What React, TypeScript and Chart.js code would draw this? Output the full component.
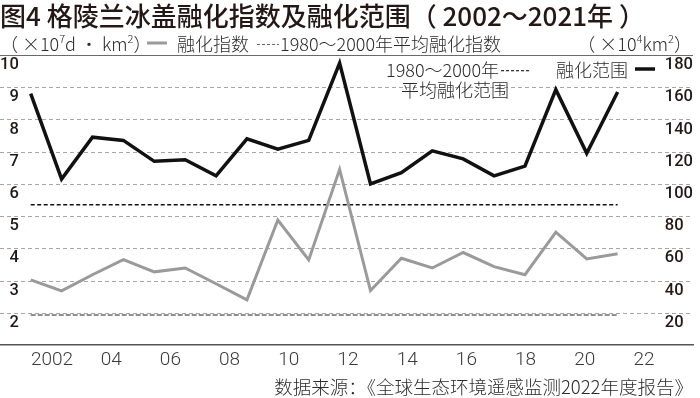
import React, { useEffect, useRef } from 'react';
import { Chart, registerables } from 'chart.js';

Chart.register(...registerables);

const years = [2002, 2003, 2004, 2005, 2006, 2007, 2008, 2009, 2010, 2011, 2012, 2013, 2014, 2015, 2016, 2017, 2018, 2019, 2020, 2021];
// 融化指数 (×10^7 d·km²), left axis
const meltIndex = [3.02, 2.68, 3.18, 3.65, 3.27, 3.39, 2.9, 2.4, 4.88, 3.64, 6.45, 2.69, 3.69, 3.39, 3.87, 3.43, 3.18, 4.5, 3.67, 3.83];
// 融化范围 (×10^4 km²), right axis
const meltExtent = [156, 103, 129, 127, 114, 115, 105, 128, 121.5, 127, 175, 100, 107, 120.5, 115.5, 105, 111, 158.5, 119, 157];
// 1980~2000 averages
const avgMeltIndex = 1.93;
const avgMeltExtent = 87;
const avgYears = [2002, 2021];

const xTickValues = [2, 4, 6, 8, 10, 12, 14, 16, 18, 20, 22];
const xTickLabels = ['2002', '04', '06', '08', '10', '12', '14', '16', '18', '20', '22'];

const TITLE = '图4 格陵兰冰盖融化指数及融化范围（ 2002～2021年 ）';
const SOURCE = '数据来源：《全球生态环境遥感监测2022年度报告》';
const LEG_INDEX = '融化指数';
const LEG_AVG_INDEX = '1980～2000年平均融化指数';
const LEG_EXTENT = '融化范围';
const LEG_AVG_EXTENT_1 = '1980～2000年';
const LEG_AVG_EXTENT_2 = '平均融化范围';

const CJK = '"Noto Sans CJK SC", "Noto Sans", sans-serif';
const NUM = 'Roboto, "Noto Sans", sans-serif';

type Seg = [string, number, number];

function drawSegs(ctx: CanvasRenderingContext2D, segs: Seg[], x: number, y: number, align: 'left' | 'right') {
  const widths = segs.map(([t, s]) => {
    ctx.font = `300 ${s}px ${CJK}`;
    return ctx.measureText(t).width;
  });
  const total = widths.reduce((a, b) => a + b, 0);
  let cx = align === 'left' ? x : x - total;
  ctx.textAlign = 'left';
  segs.forEach(([t, s, dy], i) => {
    ctx.font = `300 ${s}px ${CJK}`;
    ctx.fillText(t, cx, y + dy);
    cx += widths[i];
  });
}

function line(ctx: CanvasRenderingContext2D, x1: number, x2: number, y: number, w: number, color: string, dash: number[]) {
  ctx.save();
  ctx.beginPath();
  ctx.setLineDash(dash);
  ctx.strokeStyle = color;
  ctx.lineWidth = w;
  ctx.moveTo(x1, y);
  ctx.lineTo(x2, y);
  ctx.stroke();
  ctx.restore();
}

// horizontal rule made of filled rectangles (dash, gap)
function rule(ctx: CanvasRenderingContext2D, x1: number, x2: number, y: number, h: number, color: string, dash: number, gap: number) {
  ctx.save();
  ctx.fillStyle = color;
  for (let x = x1; x < x2; x += dash + gap) {
    ctx.fillRect(x, y, Math.min(dash, x2 - x), h);
  }
  ctx.restore();
}

// grid lines taken from the left y scale's ticks
const gridLines = {
  id: 'gridLines',
  beforeDatasetsDraw(chart: any) {
    const ctx: CanvasRenderingContext2D = chart.ctx;
    const { left, right } = chart.chartArea;
    const ys = chart.scales.y;
    ys.ticks.forEach((t: any) => {
      const py = Math.round(ys.getPixelForValue(t.value));
      if (t.value === ys.max) {
        ctx.save();
        ctx.fillStyle = '#6a6a6a';
        ctx.fillRect(left, py, right - left, 1);
        ctx.restore();
      } else if (t.value !== ys.min) {
        rule(ctx, left, right, py, 1, '#a6a6a6', 4, 3);
      }
    });
  },
};

const overlay = {
  id: 'overlay',
  afterDraw(chart: any) {
    const ctx: CanvasRenderingContext2D = chart.ctx;
    ctx.save();
    ctx.fillStyle = '#2b2b2b';
    ctx.textBaseline = 'middle';
    const fs = 18;
    // row 2: units and legend
    drawSegs(ctx, [['（ ×10', fs, 0], ['7', 11, -5], ['d · km', fs, 0], ['2', 11, -5], ['）', fs, 0]], 0, 44, 'left');
    line(ctx, 147, 167, 43, 3, '#9a9a9a', []);
    ctx.font = `300 ${fs}px ${CJK}`;
    ctx.textAlign = 'left';
    ctx.fillText(LEG_INDEX, 177, 44);
    rule(ctx, 257, 279, 44, 1, '#666', 3, 2);
    ctx.fillStyle = '#2b2b2b';
    ctx.fillText(LEG_AVG_INDEX, 280, 44);
    drawSegs(ctx, [['（ ×10', fs, 0], ['4', 11, -5], ['km', fs, 0], ['2', 11, -5], ['）', fs, 0]], 692, 44, 'right');
    // in-plot legend
    ctx.font = `300 ${fs}px ${CJK}`;
    ctx.textAlign = 'left';
    ctx.fillText(LEG_AVG_EXTENT_1, 386, 70);
    const w1 = ctx.measureText(LEG_AVG_EXTENT_1).width;
    rule(ctx, 386 + w1 + 2, 530, 70, 1.3, '#333', 3, 2);
    ctx.fillStyle = '#2b2b2b';
    ctx.fillText(LEG_AVG_EXTENT_2, 401, 90);
    ctx.fillText(LEG_EXTENT, 556, 70);
    line(ctx, 635, 655, 69, 3.5, '#111', []);
    ctx.restore();
  },
};

export default function App() {
  const ref = useRef<HTMLCanvasElement>(null);
  useEffect(() => {
    if (!ref.current) return;
    const chart = new Chart(ref.current, {
      type: 'line',
      data: {
        datasets: [
          {
            label: LEG_INDEX,
            data: years.map((y, i) => ({ x: y, y: meltIndex[i] })),
            borderColor: '#9a9a9a',
            borderWidth: 3,
            pointRadius: 0,
            tension: 0,
            yAxisID: 'y',
            xAxisID: 'x',
          },
          {
            label: LEG_EXTENT,
            data: years.map((y, i) => ({ x: y, y: meltExtent[i] })),
            borderColor: '#111111',
            borderWidth: 3.5,
            pointRadius: 0,
            tension: 0,
            yAxisID: 'y2',
            xAxisID: 'x',
          },
          {
            label: LEG_AVG_INDEX,
            data: avgYears.map((y) => ({ x: y, y: avgMeltIndex })),
            borderColor: '#8f8f8f',
            borderWidth: 2,
            borderDash: [5, 2],
            pointRadius: 0,
            yAxisID: 'y',
            xAxisID: 'x',
          },
          {
            label: '1980～2000年平均融化范围',
            data: avgYears.map((y) => ({ x: y, y: avgMeltExtent })),
            borderColor: '#111111',
            borderWidth: 1.5,
            borderDash: [4, 2.5],
            pointRadius: 0,
            yAxisID: 'y2',
            xAxisID: 'x',
          },
        ],
      },
      options: {
        animation: false,
        responsive: false,
        layout: { padding: { left: 0, right: 7, top: 0, bottom: 0 } },
        plugins: {
          legend: { display: false },
          tooltip: { enabled: false },
          title: {
            display: true,
            text: TITLE,
            align: 'start',
            color: '#231815',
            font: { family: CJK, size: 26, weight: '500', lineHeight: 1.2 },
            padding: { top: 1, bottom: 22.8 },
          },
          subtitle: {
            display: true,
            text: SOURCE,
            position: 'bottom',
            align: 'end',
            color: '#2b2b2b',
            font: { family: CJK, size: 18.5, weight: '300', lineHeight: 1.2 },
            padding: { top: 0, bottom: 0 },
          },
        },
        scales: {
          x: {
            type: 'linear',
            min: 2001.006,
            max: 2023.44,
            display: false,
          },
          xl: {
            type: 'linear',
            position: 'bottom',
            min: 0.243,
            max: 23.655,
            afterBuildTicks: (axis: any) => {
              axis.ticks = xTickValues.map((v) => ({ value: v }));
            },
            grid: { display: false, drawTicks: false },
            border: { display: true, color: '#555', width: 1.5 },
            ticks: {
              autoSkip: false,
              maxRotation: 0,
              padding: 4,
              color: '#3a3a3a',
              font: { family: NUM, size: 19, weight: '300', lineHeight: 1.2 },
              callback: (_v: any, i: number) => xTickLabels[i],
            },
          },
          y: {
            type: 'linear',
            position: 'left',
            min: 1,
            max: 10,
            ticks: {
              stepSize: 1,
              mirror: true,
              crossAlign: 'far',
              padding: 0,
              labelOffset: 10,
              color: '#231815',
              font: { family: NUM, size: 16.5, weight: '500' },
              callback: (v: any) => (v === 1 ? '' : String(v)),
            },
            grid: { display: false, drawTicks: false },
            border: { display: false },
          },
          y2: {
            type: 'linear',
            position: 'right',
            min: 0,
            max: 180,
            ticks: {
              stepSize: 20,
              mirror: true,
              crossAlign: 'far',
              padding: 0,
              labelOffset: 10,
              color: '#231815',
              font: { family: NUM, size: 16.5, weight: '500' },
              callback: (v: any) => (v === 0 ? '' : String(v)),
            },
            grid: { display: false, drawTicks: false },
            border: { display: false },
          },
        },
      } as any,
      plugins: [gridLines, overlay],
    });
    return () => chart.destroy();
  }, []);
  return (
    <div style={{ position: 'absolute', left: 0, top: 0, width: 700, height: 398, background: '#fff' }}>
      <canvas ref={ref} width={700} height={398} />
    </div>
  );
}
